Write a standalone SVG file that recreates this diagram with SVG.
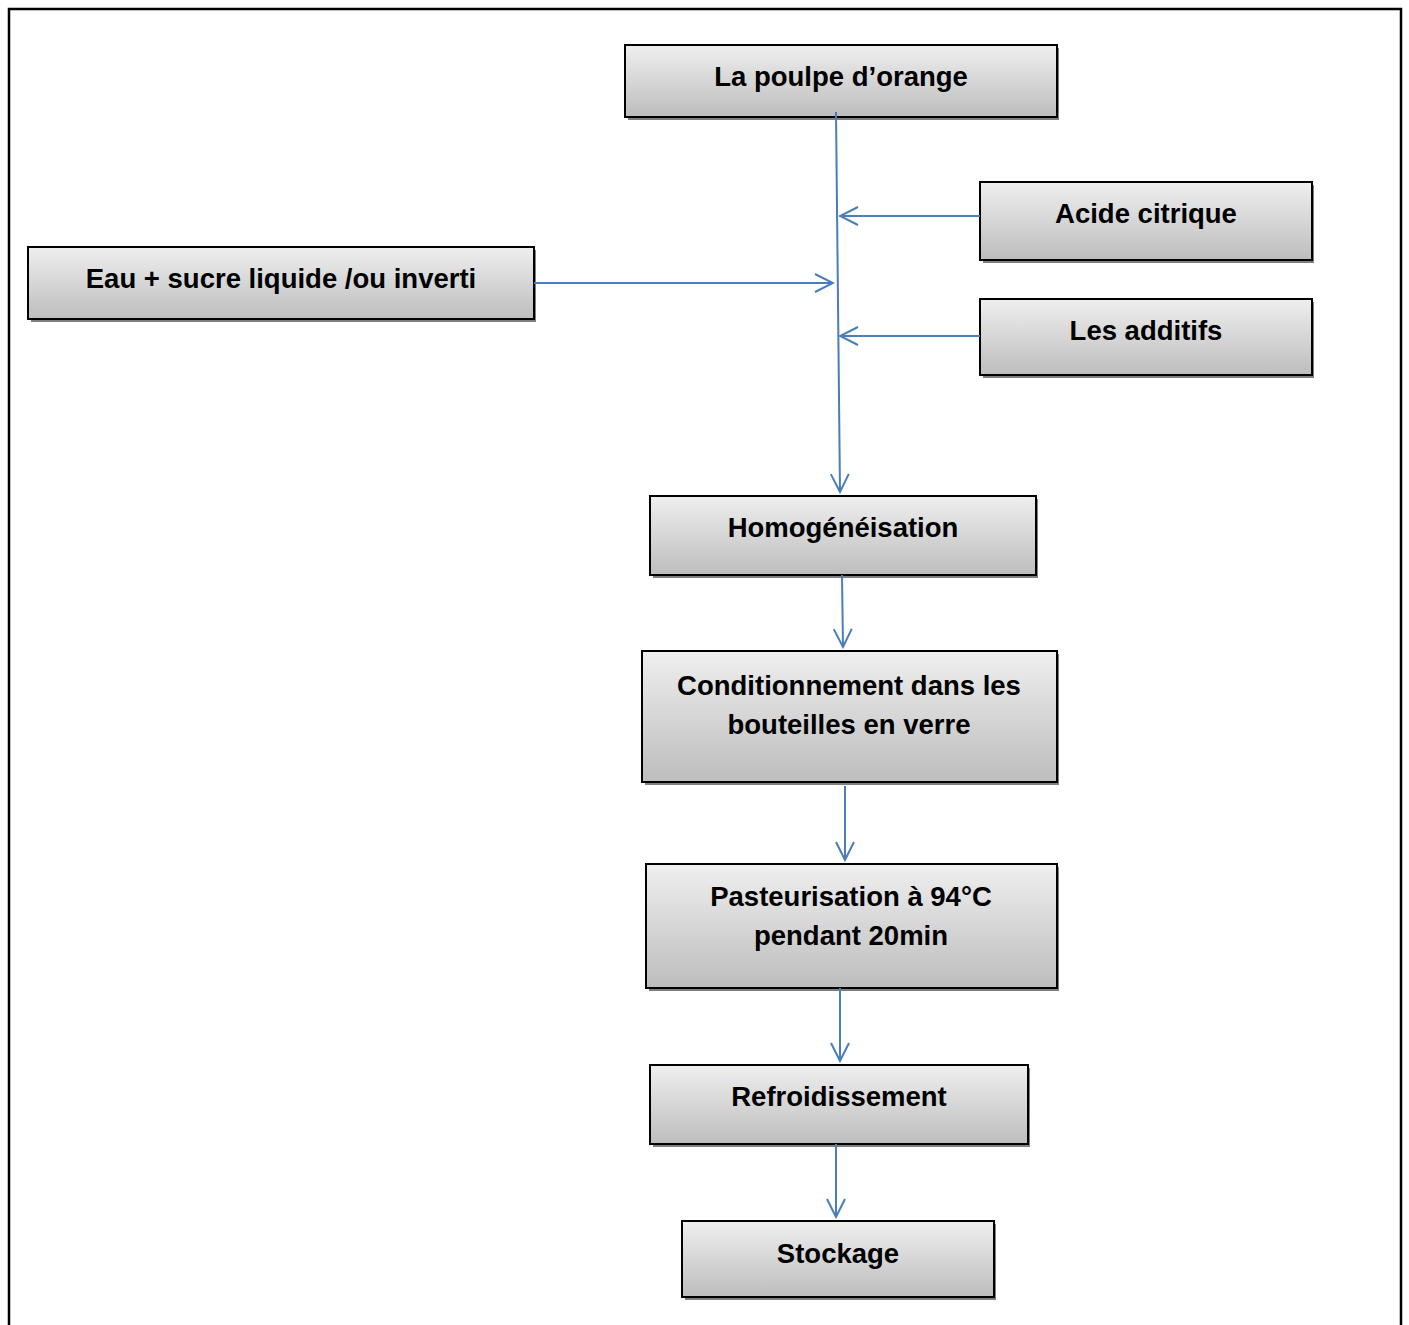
<svg xmlns="http://www.w3.org/2000/svg" width="1409" height="1325" viewBox="0 0 1409 1325">
<defs>
<linearGradient id="g" x1="0" y1="0" x2="0" y2="1">
<stop offset="0" stop-color="#efefef"/>
<stop offset="1" stop-color="#bdbdbd"/>
</linearGradient>
<marker id="arr" viewBox="0 0 24 24" refX="22" refY="12" markerWidth="24" markerHeight="24" markerUnits="userSpaceOnUse" orient="auto">
<polyline points="4,3 22,12 4,21" fill="none" stroke="#4a7ebb" stroke-width="2"/>
</marker>
</defs>
<style>
.box{fill:url(#g);stroke:#000;stroke-width:2}
.sh{fill:#7f7f7f}
.t{font-family:"Liberation Sans",Arial,sans-serif;font-weight:bold;font-size:27.5px;fill:#000;text-anchor:middle}
.c{fill:none;stroke:#4a7ebb;stroke-width:2;marker-end:url(#arr)}
</style>
<rect width="1409" height="1325" fill="#fff"/>
<path d="M9 1325 V9 H1401 V1325" fill="none" stroke="#000" stroke-width="2.5"/>
<g id="n1"><rect class="sh" x="628" y="48" width="431" height="72"/><rect class="box" x="625" y="45" width="432" height="72"/><text class="t" x="841" y="86">La poulpe d’orange</text></g>
<g id="n2"><rect class="sh" x="983" y="185" width="331" height="78"/><rect class="box" x="980" y="182" width="332" height="78"/><text class="t" x="1146" y="223">Acide citrique</text></g>
<g id="n3"><rect class="sh" x="31" y="250" width="505" height="72"/><rect class="box" x="28" y="247" width="506" height="72"/><text class="t" x="281" y="288">Eau + sucre liquide /ou inverti</text></g>
<g id="n4"><rect class="sh" x="983" y="302" width="331" height="76"/><rect class="box" x="980" y="299" width="332" height="76"/><text class="t" x="1146" y="340">Les additifs</text></g>
<g id="n5"><rect class="sh" x="653" y="499" width="385" height="79"/><rect class="box" x="650" y="496" width="386" height="79"/><text class="t" x="843" y="537">Homogénéisation</text></g>
<g id="n6"><rect class="sh" x="645" y="654" width="414" height="131"/><rect class="box" x="642" y="651" width="415" height="131"/><text class="t" x="849" y="695">Conditionnement dans les</text><text class="t" x="849" y="734">bouteilles en verre</text></g>
<g id="n7"><rect class="sh" x="649" y="867" width="410" height="124"/><rect class="box" x="646" y="864" width="411" height="124"/><text class="t" x="851" y="906">Pasteurisation à 94°C</text><text class="t" x="851" y="945">pendant 20min</text></g>
<g id="n8"><rect class="sh" x="653" y="1068" width="377" height="79"/><rect class="box" x="650" y="1065" width="378" height="79"/><text class="t" x="839" y="1106">Refroidissement</text></g>
<g id="n9"><rect class="sh" x="685" y="1224" width="311" height="76"/><rect class="box" x="682" y="1221" width="312" height="76"/><text class="t" x="838" y="1263">Stockage</text></g>
<g id="connectors">
<line class="c" x1="836" y1="112" x2="840" y2="492"/>
<line class="c" x1="980" y1="216" x2="840" y2="216"/>
<line class="c" x1="534" y1="283" x2="833" y2="283"/>
<line class="c" x1="980" y1="336" x2="840" y2="336"/>
<line class="c" x1="842" y1="575" x2="843" y2="647"/>
<line class="c" x1="845" y1="786" x2="845" y2="860"/>
<line class="c" x1="840" y1="988" x2="840" y2="1061"/>
<line class="c" x1="836" y1="1144" x2="836" y2="1217"/>
</g>
</svg>
